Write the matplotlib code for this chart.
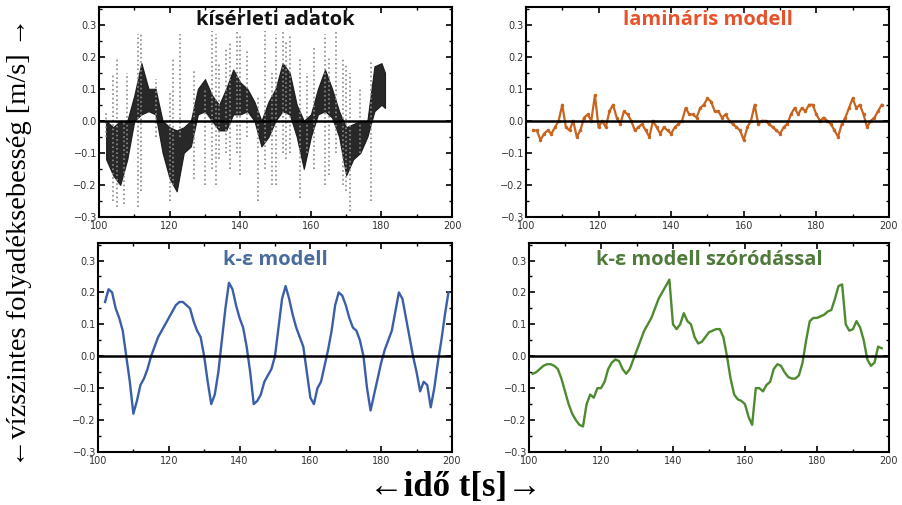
import numpy as np
import matplotlib.pyplot as plt
from matplotlib.ticker import MultipleLocator

# kísérleti adatok: sűrű sáv (alsó / felső határ) és szórt tüskék
exp_t = [102, 104, 106, 108, 110, 112, 114, 116, 118, 120, 122, 124, 126, 128,
         130, 132, 134, 136, 138, 140, 142, 144, 146, 148, 150, 152, 154, 156,
         158, 160, 162, 164, 166, 168, 170, 172, 174, 176, 178, 180, 181]
exp_lo = [-0.12, -0.17, -0.20, -0.12, 0.00, 0.02, 0.03, 0.02, -0.10, -0.18, -0.22,
          -0.10, -0.08, 0.02, 0.03, 0.00, -0.03, -0.03, 0.02, 0.02, 0.03, 0.00,
          -0.08, -0.05, 0.00, 0.03, 0.02, -0.05, -0.15, -0.05, 0.02, 0.03, 0.01,
          -0.05, -0.17, -0.12, -0.10, -0.05, 0.03, 0.05, 0.04]
exp_hi = [0.00, -0.02, 0.00, 0.00, 0.08, 0.18, 0.10, 0.10, 0.00, -0.02, -0.03,
          -0.02, 0.00, 0.10, 0.13, 0.08, 0.05, 0.10, 0.16, 0.12, 0.10, 0.06,
          0.00, 0.06, 0.10, 0.18, 0.15, 0.05, 0.00, 0.02, 0.10, 0.16, 0.10,
          0.03, -0.02, -0.01, 0.00, 0.00, 0.17, 0.18, 0.15]
spike_t = [102, 104, 105, 107, 108, 111, 112, 116, 120, 121, 123, 127, 130, 132,
           133, 134, 136, 137, 139, 140, 142, 145, 147, 149, 150, 152, 153, 154,
           157, 159, 161, 164, 165, 167, 169, 170, 171, 174, 177]
spike_lo = [-0.05, -0.25, -0.27, -0.26, -0.10, -0.27, -0.22, -0.05, -0.25, -0.20,
            -0.05, -0.18, -0.20, -0.15, -0.20, -0.12, -0.10, -0.15, -0.10, -0.17,
            -0.05, -0.25, -0.15, -0.20, -0.20, -0.10, -0.12, -0.10, -0.24, -0.10,
            -0.15, -0.20, -0.17, -0.10, -0.20, -0.22, -0.28, -0.10, -0.25]
spike_hi = [0.03, 0.15, 0.20, 0.00, 0.15, 0.27, 0.27, 0.13, 0.09, 0.20, 0.27,
            0.16, 0.10, 0.28, 0.27, 0.18, 0.23, 0.25, 0.28, 0.27, 0.22, 0.08,
            0.28, 0.15, 0.27, 0.28, 0.25, 0.27, 0.20, 0.15, 0.23, 0.27, 0.20,
            0.28, 0.20, 0.18, 0.15, 0.10, 0.19]

# lamináris modell
lam_t = list(range(102, 199))
lam_v = [-0.03, -0.03, -0.06, -0.04, -0.03, -0.04, -0.02, 0.00, 0.05, -0.02,
         -0.03, 0.00, -0.05, -0.03, 0.01, 0.02, 0.00, 0.08, -0.02, 0.00,
         -0.02, 0.03, 0.05, 0.01, -0.01, 0.03, 0.02, 0.00, -0.03, -0.02,
         -0.01, -0.03, -0.05, 0.00, -0.02, -0.04, -0.02, -0.03, -0.04, -0.02,
         -0.01, 0.00, 0.04, 0.02, 0.02, 0.01, 0.04, 0.05, 0.07, 0.06,
         0.03, 0.03, 0.01, 0.02, 0.00, -0.01, -0.02, -0.03, -0.06, -0.02,
         0.00, 0.05, -0.01, 0.00, 0.00, -0.01, -0.02, -0.03, -0.04, -0.02,
         -0.01, 0.02, 0.04, 0.02, 0.04, 0.03, 0.05, 0.05, 0.02, 0.00,
         0.01, 0.00, -0.01, -0.03, -0.05, -0.01, 0.01, 0.04, 0.07, 0.04,
         0.05, 0.02, -0.02, 0.00, 0.01, 0.03, 0.05]

# k-ε modell
ke_t = list(range(102, 200))
ke_v = [0.17, 0.21, 0.20, 0.15, 0.12, 0.08, 0.00, -0.08, -0.18, -0.14,
        -0.09, -0.07, -0.04, 0.00, 0.03, 0.06, 0.08, 0.10, 0.12, 0.14,
        0.16, 0.17, 0.17, 0.16, 0.15, 0.11, 0.08, 0.06, 0.00, -0.08,
        -0.15, -0.12, -0.05, 0.05, 0.15, 0.23, 0.21, 0.16, 0.12, 0.09,
        0.03, -0.05, -0.15, -0.14, -0.12, -0.08, -0.06, -0.04, 0.00, 0.09,
        0.18, 0.22, 0.18, 0.13, 0.09, 0.06, 0.03, -0.05, -0.13, -0.15,
        -0.10, -0.08, -0.03, 0.02, 0.08, 0.16, 0.20, 0.19, 0.16, 0.12,
        0.09, 0.08, 0.05, 0.00, -0.10, -0.17, -0.12, -0.07, -0.02, 0.02,
        0.05, 0.08, 0.14, 0.20, 0.18, 0.12, 0.06, 0.00, -0.05, -0.11,
        -0.08, -0.09, -0.16, -0.10, -0.02, 0.05, 0.13, 0.20]

# k-ε modell szóródással
kes_t = list(range(101, 199))
kes_v = [-0.055, -0.05, -0.04, -0.03, -0.025, -0.025, -0.03, -0.04, -0.07, -0.11,
         -0.15, -0.18, -0.20, -0.215, -0.22, -0.15, -0.12, -0.13, -0.10, -0.10,
         -0.08, -0.04, -0.02, -0.01, -0.015, -0.04, -0.055, -0.04, -0.01, 0.02,
         0.05, 0.08, 0.10, 0.12, 0.15, 0.18, 0.20, 0.22, 0.24, 0.10,
         0.085, 0.10, 0.135, 0.11, 0.10, 0.06, 0.04, 0.045, 0.06, 0.075,
         0.08, 0.085, 0.085, 0.06, 0.00, -0.07, -0.12, -0.135, -0.14, -0.15,
         -0.19, -0.215, -0.10, -0.10, -0.11, -0.09, -0.08, -0.04, -0.025, -0.03,
         -0.05, -0.065, -0.07, -0.07, -0.06, -0.02, 0.05, 0.11, 0.12, 0.12,
         0.125, 0.13, 0.14, 0.145, 0.18, 0.22, 0.225, 0.10, 0.08, 0.085,
         0.11, 0.09, 0.05, -0.01, -0.03, -0.02, 0.03, 0.025]

fig = plt.figure(figsize=(9.02, 5.05), dpi=100)
ax_tl = fig.add_axes([0.1098, 0.5703, 0.3914, 0.4158])
ax_tr = fig.add_axes([0.5831, 0.5703, 0.4024, 0.4158])
ax_bl = fig.add_axes([0.1086, 0.1050, 0.3925, 0.4139])
ax_br = fig.add_axes([0.5865, 0.1050, 0.3990, 0.4139])

for ax in [ax_tl, ax_tr, ax_bl, ax_br]:
    ax.set_xlim(100, 200)
    ax.set_ylim(-0.3, 0.355)
    ax.set_yticks([-0.3, -0.2, -0.1, 0.0, 0.1, 0.2, 0.3])
    ax.set_xticks([100, 120, 140, 160, 180, 200])
    ax.xaxis.set_minor_locator(MultipleLocator(10))
    ax.yaxis.set_minor_locator(MultipleLocator(0.05))
    ax.tick_params(which='both', direction='in', top=True, right=True,
                   labelsize=7, labelcolor='#333333')
    ax.tick_params(axis='x', pad=3)
    ax.tick_params(axis='y', pad=1.5)
    ax.tick_params(which='major', length=4, width=1.2)
    ax.tick_params(which='minor', length=2, width=1)
    for s in ax.spines.values():
        s.set_linewidth(1.5)
    ax.axhline(0, color='black', lw=1.8, zorder=3)

# kísérleti adatok
ax_tl.vlines(spike_t, spike_lo, spike_hi, colors='#8a8a8a', linestyles=':', lw=1.2)
ax_tl.fill_between(exp_t, exp_lo, exp_hi, color='#151515', alpha=0.92, lw=0.8)
ax_tl.text(0.5, 0.94, 'kísérleti adatok', transform=ax_tl.transAxes, ha='center',
           va='center', fontsize=14.5, fontweight='bold', family='Open Sans', color='#111111')

ax_tr.plot(lam_t, lam_v, color='#c8641e', lw=1.6, marker='.', ms=3)
ax_tr.text(0.5, 0.94, 'lamináris modell', transform=ax_tr.transAxes,
           ha='center', va='center', fontsize=14.5, fontweight='bold', family='Open Sans',
           color='#e8522a')

ax_bl.plot(ke_t, ke_v, color='#3a5fa8', lw=1.7)
ax_bl.text(0.5, 0.92, 'k-ε modell', transform=ax_bl.transAxes, ha='center', va='center',
           fontsize=14.5, fontweight='bold', family='Open Sans', color='#4a6c9c')

ax_br.plot(kes_t, kes_v, color='#4e8a30', lw=1.7)
ax_br.text(0.5, 0.92, 'k-ε modell szóródással', transform=ax_br.transAxes, ha='center',
           va='center', fontsize=14.5, fontweight='bold', family='Open Sans', color='#4e7a3a')

fig.text(0.022, 0.52, '←vízszintes folyadéksebesség [m/s] →', rotation=90, ha='center',
         va='center', fontsize=20.5, family=['Liberation Serif', 'DejaVu Serif'])
fig.text(0.505, 0.035, '←idő t[s]→', ha='center', va='center', fontsize=25,
         fontweight='bold', family=['Liberation Serif', 'DejaVu Serif'])

fig.savefig('out.png', dpi=100)
